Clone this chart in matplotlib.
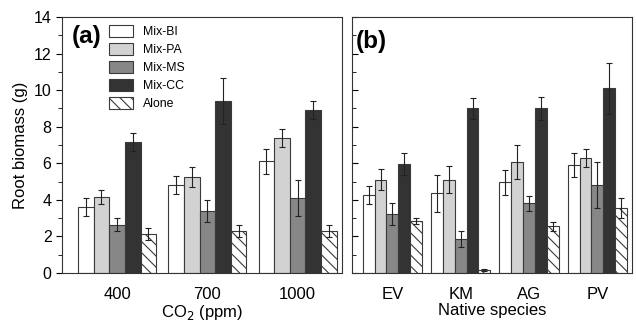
import numpy as np
import matplotlib.pyplot as plt
from matplotlib.ticker import MultipleLocator

plt.rcParams['font.family'] = ['Liberation Sans', 'DejaVu Sans']
plt.rcParams['hatch.linewidth'] = 0.8

series = ["Mix-BI", "Mix-PA", "Mix-MS", "Mix-CC", "Alone"]

# panel (a): CO2 levels
co2_levels = ["400", "700", "1000"]
co2_mean = [
    [3.6, 4.8, 6.1],    # Mix-BI
    [4.15, 5.25, 7.4],  # Mix-PA
    [2.65, 3.4, 4.1],   # Mix-MS
    [7.15, 9.4, 8.9],   # Mix-CC
    [2.15, 2.3, 2.3],   # Alone
]
co2_err = [
    [0.5, 0.5, 0.7],
    [0.4, 0.55, 0.5],
    [0.35, 0.6, 1.0],
    [0.5, 1.25, 0.5],
    [0.33, 0.32, 0.32],
]

# panel (b): native species
species = ["EV", "KM", "AG", "PV"]
sp_mean = [
    [4.25, 4.35, 4.95, 5.9],
    [5.1, 5.1, 6.05, 6.3],
    [3.2, 1.85, 3.8, 4.8],
    [5.95, 9.0, 9.0, 10.1],
    [2.85, 0.15, 2.55, 3.55],
]
sp_err = [
    [0.5, 1.0, 0.68, 0.64],
    [0.58, 0.75, 0.93, 0.5],
    [0.6, 0.45, 0.4, 1.26],
    [0.6, 0.6, 0.62, 1.4],
    [0.18, 0.05, 0.23, 0.53],
]

colors = ["white", "#d2d2d2", "#878787", "#333333", "white"]
hatches = [None, None, None, None, "\\\\\\"]
bar_w = 0.173


def draw_panel(ax, labels, means, errs):
    x = np.arange(len(labels))
    for i in range(len(series)):
        pos = x + (i - 2) * bar_w
        ax.bar(pos, means[i], bar_w, color=colors[i], edgecolor="#3a3a3a",
               linewidth=0.8, hatch=hatches[i], label=series[i], zorder=2)
        ax.errorbar(pos, means[i], yerr=errs[i], fmt="none", ecolor="#222222",
                    elinewidth=0.8, capsize=2.5, capthick=0.8, zorder=3)
    ax.set_xticks(x)
    ax.set_xticklabels(labels, fontsize=12)
    ax.tick_params(axis="x", length=0, pad=10)
    ax.set_ylim(0, 14)
    ax.yaxis.set_major_locator(MultipleLocator(2))
    ax.yaxis.set_minor_locator(MultipleLocator(1))
    for s in ax.spines.values():
        s.set_linewidth(0.8)
        s.set_color("#333333")


fig = plt.figure(figsize=(6.36, 3.23), dpi=100)
ax1 = fig.add_axes([0.0975, 0.155, 0.440, 0.792])
ax2 = fig.add_axes([0.5535, 0.155, 0.440, 0.792])

draw_panel(ax1, co2_levels, co2_mean, co2_err)
ax1.set_xlim(-0.61, 2.49)
ax1.tick_params(axis="y", which="both", direction="out", labelsize=11.5)
ax1.tick_params(axis="y", which="major", length=4)
ax1.tick_params(axis="y", which="minor", length=3)
ax1.set_ylabel("Root biomass (g)", fontsize=12, labelpad=4)
ax1.set_xlabel("CO$_2$ (ppm)", fontsize=12, labelpad=1)
ax1.text(0.035, 0.925, "(a)", transform=ax1.transAxes, fontsize=17.5,
         fontweight="bold", va="center")
ax1.legend(loc="upper left", bbox_to_anchor=(0.168, 0.97), frameon=False,
           fontsize=8.8, handlelength=2.0, handleheight=1.1, labelspacing=0.42,
           handletextpad=0.75, borderpad=0, borderaxespad=0)

draw_panel(ax2, species, sp_mean, sp_err)
ax2.set_xlim(-0.59, 3.505)
ax2.tick_params(axis="y", which="both", direction="in", labelleft=False)
ax2.tick_params(axis="y", which="major", length=4)
ax2.tick_params(axis="y", which="minor", length=3)
ax2.set_xlabel("Native species", fontsize=12, labelpad=1)
ax2.text(0.012, 0.905, "(b)", transform=ax2.transAxes, fontsize=17.5,
         fontweight="bold", va="center")

fig.savefig("out.png", dpi=100)
